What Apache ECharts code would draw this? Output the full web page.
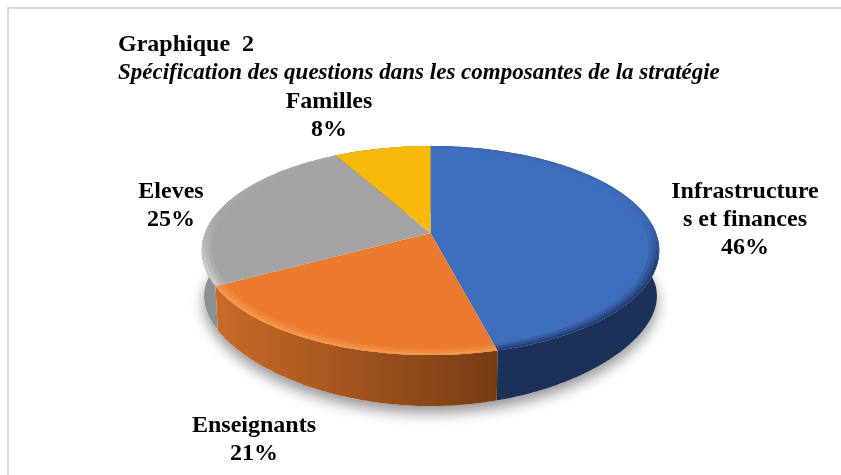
<!DOCTYPE html>
<html><head><meta charset="utf-8">
<style>html,body{margin:0;padding:0;background:#fff}#c{width:841px;height:475px}</style>
<script src="https://cdn.jsdelivr.net/npm/echarts@6/dist/echarts.min.js"></script>
</head><body><div id="c"></div>
<script>
const categories = ['Infrastructures et finances','Enseignants','Eleves','Familles'];
const labelLines = [['Infrastructure','s et finances','46%'],['Enseignants','21%'],['Eleves','25%'],['Familles','8%']];
const values = [46,21,25,8];
const titleLine = 'Graphique  2';
const subtitleLine = 'Spécification des questions dans les composantes de la stratégie';

const topColors = ['#3f6ebd','#ea7a30','#a3a3a3','#f9b90a'];
const rimColors = ['#1f3a70','#f5994f','#cfcfcf','#f9b90a'];
const wallColors = [['#1c3157','#1c3157'],['#c96a28','#773c14'],['#8a8f92','#9a9a9a'],['#8a6a05','#8a6a05']];
const labelCenters = [[745,220],[254,440],[171,206],[329,116]];

const SERIF = '"Liberation Serif","Times New Roman",serif';
const total = values.reduce((a,b)=>a+b,0);
const cx=430.5, cy=233, A=225.5, B=101.6, K=0.1675;
const cyB=280.5, AB=0.99, BB=87.9, KB=0.3;
function topPt(t,r){const u=r*Math.sin(t),v=-r*Math.cos(t),w=1-K*v;return [cx+A*u/w,cy+B*v/w];}
function botPt(t){const u=Math.sin(t),v=-Math.cos(t);return [cx+A*AB*u/(1-K*v),cyB+BB*v/(1-KB*v)];}
function angles(i){let s=0;for(let j=0;j<i;j++)s+=values[j];return [s/total*2*Math.PI,(s+values[i])/total*2*Math.PI];}
function arc(f,a0,a1){const n=Math.max(8,Math.ceil((a1-a0)*60));const p=[];for(let k=0;k<=n;k++)p.push(f(a0+(a1-a0)*k/n));return p;}

function wallItem(params,api){
  const i=params.dataIndex,[a0,a1]=angles(i);
  const upper=arc(t=>topPt(t,1),a0,a1),lower=arc(botPt,a0,a1).reverse();
  const kids=[];
  if(i===0) kids.push({type:'polygon',shape:{points:arc(botPt,0,2*Math.PI)},
    style:{fill:'#fff',shadowColor:'rgba(0,0,0,0.42)',shadowBlur:14,shadowOffsetY:7,shadowOffsetX:0}});
  kids.push({type:'polygon',shape:{points:upper.concat(lower)},
    style:{fill:new echarts.graphic.LinearGradient(0,0,1,0,[{offset:0,color:wallColors[i][0]},{offset:1,color:wallColors[i][1]}])}});
  return {type:'group',children:kids};
}
function topItem(params,api){
  const i=params.dataIndex,[a0,a1]=angles(i);
  const kids=[{type:'polygon',shape:{points:[[cx,cy]].concat(arc(t=>topPt(t,1),a0,a1))},style:{fill:topColors[i]}}];
  const solid=rimColors[i];
  const rimFill=new echarts.graphic.LinearGradient(0,cy-15,0,cy+35,[
    {offset:0,color:echarts.color.modifyAlpha(solid,0.12)},
    {offset:1,color:solid}],true);
  [[1,0.985,0.9],[0.985,0.97,0.55],[0.97,0.955,0.25]].forEach(b=>{
    const o=arc(t=>topPt(t,b[0]),a0,a1),n=arc(t=>topPt(t,b[1]),a0,a1).reverse();
    kids.push({type:'polygon',shape:{points:o.concat(n)},style:{fill:rimFill,opacity:b[2]}});
  });
  const c=labelCenters[i];
  kids.push({type:'text',style:{x:c[0],y:c[1],text:labelLines[i].join('\n'),align:'center',verticalAlign:'middle',
    font:'bold 24px '+SERIF,lineHeight:28,fill:'#000'}});
  return {type:'group',children:kids};
}
const data=values.map((v,i)=>({name:categories[i],value:[v]}));
const chart=echarts.init(document.getElementById('c'),null,{renderer:'canvas'});
chart.setOption({
  animation:false,
  backgroundColor:'#fff',
  graphic:[
    {type:'rect',z:0,shape:{x:8,y:8,width:860,height:500},style:{fill:'#fff',stroke:'#d9d9d9',lineWidth:2}},
    {type:'text',z:5,style:{x:118,y:45,text:titleLine,font:'bold 24px '+SERIF,fill:'#000',verticalAlign:'middle'}},
    {type:'text',z:5,style:{x:118,y:73,text:subtitleLine,font:'italic bold 23px '+SERIF,fill:'#000',verticalAlign:'middle'}}
  ],
  series:[
    {type:'custom',coordinateSystem:'none',z:2,data:data,renderItem:wallItem,silent:true},
    {type:'custom',coordinateSystem:'none',z:3,data:data,renderItem:topItem,silent:true}
  ]
});
</script></body></html>
